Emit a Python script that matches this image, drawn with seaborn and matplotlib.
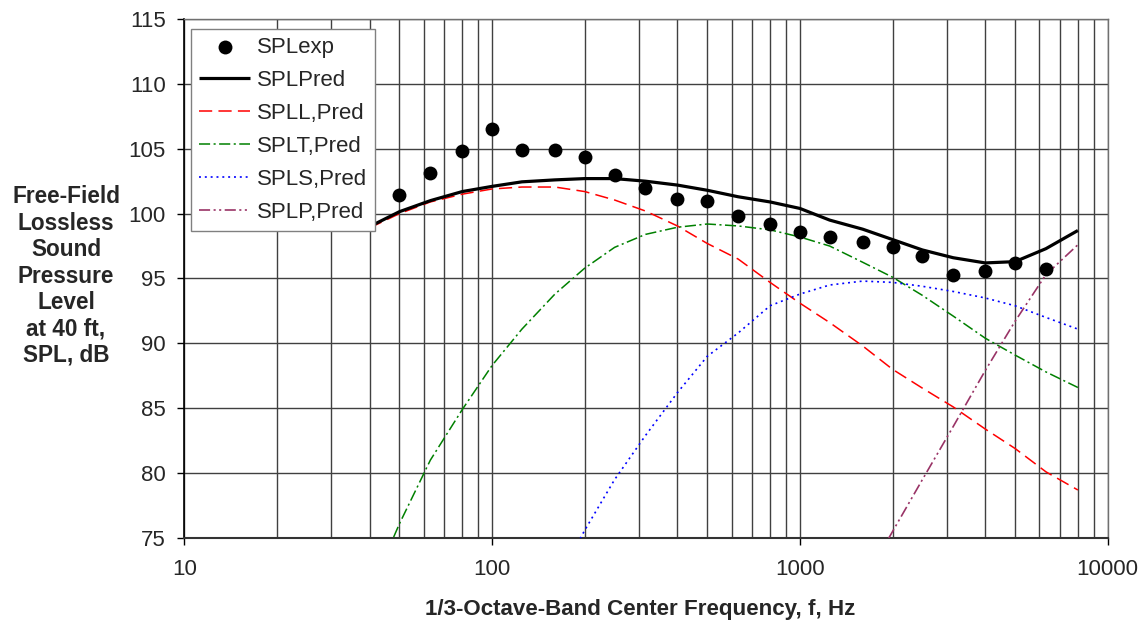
import numpy as np
import pandas as pd
import matplotlib
matplotlib.use("Agg")
import matplotlib.pyplot as plt
import seaborn as sns
from matplotlib.ticker import FixedLocator, NullFormatter, FixedFormatter

# ---------------- data ----------------
freq_exp = [50, 63, 80, 100, 125, 160, 200, 250, 315, 400, 500, 630, 800,
            1000, 1250, 1600, 2000, 2500, 3150, 4000, 5000, 6300]
spl_exp = [101.4, 103.1, 104.8, 106.5, 104.9, 104.9, 104.4, 103.0, 102.0, 101.1,
           101.0, 99.8, 99.2, 98.55, 98.2, 97.8, 97.4, 96.7, 95.25, 95.6, 96.2, 95.7]

freq_pred = [40, 50, 63, 80, 100, 125, 160, 200, 250, 315, 400, 500, 630, 800,
             1000, 1250, 1600, 2000, 2500, 3150, 4000, 5000, 6300, 8000]
spl_pred = [99.0, 100.15, 101.0, 101.7, 102.1, 102.45, 102.6, 102.7, 102.7, 102.5,
            102.2, 101.8, 101.3, 100.9, 100.4, 99.5, 98.8, 98.0, 97.2, 96.6,
            96.2, 96.3, 97.3, 98.7]
spl_l = [98.9, 100.0, 100.9, 101.5, 101.9, 102.05, 102.05, 101.7, 101.05, 100.2,
         99.05, 97.7, 96.5, 94.7, 93.1, 91.6, 89.8, 88.0, 86.55, 85.1,
         83.4, 81.9, 80.1, 78.7]
spl_t = [70.8, 76.1, 81.0, 84.9, 88.3, 91.1, 93.8, 95.8, 97.4, 98.4,
         98.95, 99.2, 99.05, 98.75, 98.2, 97.5, 96.25, 95.1, 93.7, 92.1,
         90.4, 89.1, 87.8, 86.6]

freq_s = [160, 200, 250, 315, 400, 500, 630, 800, 1000, 1250, 1600, 2000,
          2500, 3150, 4000, 5000, 6300, 8000]
spl_s = [71.4, 75.6, 79.5, 82.9, 86.2, 89.0, 90.8, 92.9, 93.8, 94.5, 94.8, 94.7,
         94.4, 94.0, 93.5, 92.9, 92.0, 91.1]

freq_p = [1600, 2000, 2500, 3150, 4000, 5000, 6300, 8000]
spl_p = [71.5, 75.5, 79.5, 83.6, 87.9, 91.7, 95.3, 97.6]

x_ticks = [10, 100, 1000, 10000]
x_ticklabels = ["10", "100", "1000", "10000"]
y_ticks = [75, 80, 85, 90, 95, 100, 105, 110, 115]

labels = ["SPLexp", "SPLPred", "SPLL,Pred", "SPLT,Pred", "SPLS,Pred", "SPLP,Pred"]

# ---------------- style ----------------
sns.set_theme(style="white")
plt.rcParams["font.family"] = ["Liberation Sans", "DejaVu Sans"]
plt.rcParams["lines.scale_dashes"] = False

W, H = 1144, 627
L, R, T, B = 184.3, 1107.7, 19.0, 538.0
fig = plt.figure(figsize=(W / 100, H / 100), dpi=100)
ax = fig.add_axes([L / W, (H - B) / H, (R - L) / W, (B - T) / H])

df_exp = pd.DataFrame({"f": freq_exp, "spl": spl_exp})
df_pred = pd.DataFrame({"f": freq_pred, "pred": spl_pred, "l": spl_l, "t": spl_t})
df_s = pd.DataFrame({"f": freq_s, "s": spl_s})
df_p = pd.DataFrame({"f": freq_p, "p": spl_p})

handles = []
sns.scatterplot(data=df_exp, x="f", y="spl", ax=ax, color="black", s=100,
                edgecolor="black", linewidth=0, zorder=6)
handles.append(ax.collections[-1])

def add_line(df, col, color, lw, dashes=None, z=4):
    sns.lineplot(data=df, x="f", y=col, ax=ax, color=color, linewidth=lw,
                 zorder=z, estimator=None, sort=False)
    ln = ax.lines[-1]
    if dashes is not None:
        ln.set_dashes(dashes)
    ln.set_solid_capstyle("butt")
    handles.append(ln)

add_line(df_pred, "pred", "black", 2.3, None, 5)
add_line(df_pred, "l", "#ff0000", 1.1, (9.5, 4.5))
add_line(df_pred, "t", "#008000", 1.1, (8, 2.5, 1.5, 2.5))
add_line(df_s, "s", "#0000ff", 1.2, (1.4, 2.8))
add_line(df_p, "p", "#993366", 1.2, (8, 2.5, 1.5, 2.5, 1.5, 2.5))

ax.set_xscale("log")
ax.set_xlim(10, 10000)
ax.set_ylim(75, 115)

grid_col = "#404040"
ax.xaxis.set_major_locator(FixedLocator(x_ticks))
ax.xaxis.set_major_formatter(FixedFormatter(x_ticklabels))
minor = [m * d for d in [10, 100, 1000] for m in range(2, 10)]
ax.xaxis.set_minor_locator(FixedLocator(minor))
ax.xaxis.set_minor_formatter(NullFormatter())
ax.set_yticks(y_ticks)
ax.grid(True, which="major", axis="both", color=grid_col, linewidth=1.0)
ax.grid(True, which="minor", axis="x", color=grid_col, linewidth=1.0)
ax.set_axisbelow(True)

ax.tick_params(axis="both", which="major", direction="out", length=5, width=1,
               color="black", labelsize=16, left=True, bottom=True)
ax.tick_params(axis="x", which="major", pad=10)
ax.tick_params(axis="y", which="major", pad=8.5)
ax.tick_params(axis="x", which="minor", length=0)

ax.spines["left"].set_color("black")
ax.spines["left"].set_linewidth(1.2)
ax.spines["bottom"].set_color("#333333")
ax.spines["bottom"].set_linewidth(1.5)
for side in ["top", "right"]:
    ax.spines[side].set_color("#707070")
    ax.spines[side].set_linewidth(1.0)

ax.set_xlabel("")
ax.set_ylabel("")
fig.text(640 / W, 1 - 610 / H, "1/3-Octave-Band Center Frequency, f, Hz",
         ha="center", va="center", fontsize=16.1, fontweight="bold")
fig.text(66 / W, 1 - 276 / H,
         "Free-Field\nLossless\nSound\nPressure\nLevel\nat 40 ft,\nSPL, dB",
         ha="center", va="center", fontsize=16.3, fontweight="bold",
         linespacing=1.19)

leg = ax.legend(handles, labels, loc="upper left",
                bbox_to_anchor=(6.7 / (R - L), 1 - 10 / (B - T)), fontsize=16,
                frameon=True, fancybox=False, framealpha=1, edgecolor="#808080",
                handlelength=2.3, handletextpad=0.3, labelspacing=0.54,
                borderpad=0.36, borderaxespad=0, markerscale=1.0)
leg.get_frame().set_linewidth(1.0)

fig.savefig("out.png", dpi=100, facecolor="white")
